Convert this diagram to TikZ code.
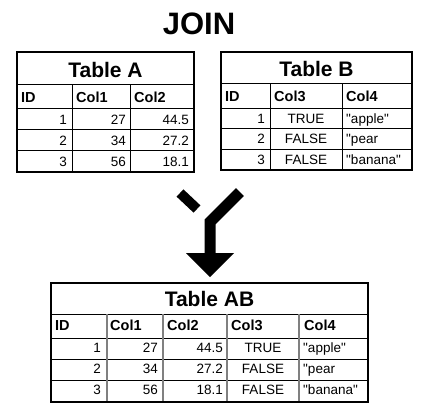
\documentclass[tikz,border=0pt]{standalone}
\usepackage{fontspec}
\setmainfont{Liberation Sans}[Ligatures=TeXOff]
\begin{document}
\begin{tikzpicture}[x=1pt,y=-1pt,
  title/.style={font=\fontsize{31}{31}\selectfont\bfseries, anchor=base, inner sep=0},
  thead/.style={font=\fontsize{21}{21}\selectfont\bfseries, anchor=base, inner sep=0},
  chead/.style={font=\fontsize{14.5}{14.5}\selectfont\bfseries, anchor=base west, inner sep=0},
  cellr/.style={font=\fontsize{13.5}{13.5}\selectfont, anchor=base east, inner sep=0},
  cellc/.style={font=\fontsize{13.5}{13.5}\selectfont, anchor=base, inner sep=0},
  celll/.style={font=\fontsize{13.5}{13.5}\selectfont, anchor=base west, inner sep=0},
  outer/.style={draw=black, line width=2.5pt},
  rowline/.style={draw=black, line width=1pt},
  colline/.style={draw=black, line width=1pt},
  gcolline/.style={draw=gray, line width=1.6pt},
  bar/.style={draw=black, line width=11pt, line join=miter, line cap=butt},
  head/.style={fill=black, draw=none}
]
\useasboundingbox (0,0) rectangle (433,418);
\fill[white] (0,0) rectangle (433,418);

% Title
\node[title] (join) at (199,34) {JOIN};

% ---------- Table A ----------
\foreach \y in {84,108,129,150} \draw[rowline] (17,\y) -- (194,\y);
\foreach \x in {72,130} \draw[colline] (\x,84) -- (\x,172);
\draw[outer] (17,52) rectangle (194,172);
\node[thead] (tA) at (105.5,77) {Table A};
\node[chead] (tAh1) at (21,102) {ID};
\node[chead] (tAh2) at (76,102) {Col1};
\node[chead] (tAh3) at (134,102) {Col2};
\node[cellr] (tA11) at (67,124) {1};
\node[cellr] (tA12) at (126,124) {27};
\node[cellr] (tA13) at (189,124) {44.5};
\node[cellr] (tA21) at (67,145) {2};
\node[cellr] (tA22) at (126,145) {34};
\node[cellr] (tA23) at (189,145) {27.2};
\node[cellr] (tA31) at (67,166) {3};
\node[cellr] (tA32) at (126,166) {56};
\node[cellr] (tA33) at (189,166) {18.1};

% ---------- Table B ----------
\foreach \y in {83,108,128,149} \draw[rowline] (221,\y) -- (412,\y);
\foreach \x in {270,342} \draw[colline] (\x,83) -- (\x,170);
\draw[outer] (221,52) rectangle (412,170);
\node[thead] (tB) at (316.5,76) {Table B};
\node[chead] (tBh1) at (225,101) {ID};
\node[chead] (tBh2) at (274,101) {Col3};
\node[chead] (tBh3) at (346,101) {Col4};
\node[cellr] (tB11) at (265,123) {1};
\node[cellc] (tB12) at (306,123) {TRUE};
\node[celll] (tB13) at (346,123) {"apple"};
\node[cellr] (tB21) at (265,143.5) {2};
\node[cellc] (tB22) at (306,143.5) {FALSE};
\node[celll] (tB23) at (346,143.5) {"pear};
\node[cellr] (tB31) at (265,164) {3};
\node[cellc] (tB32) at (306,164) {FALSE};
\node[celll] (tB33) at (346,164) {"banana"};

% ---------- Arrow ----------
\coordinate (la) at (180,193);
\coordinate (lb) at (197,209);
\coordinate (ra) at (240,192);
\coordinate (rb) at (210,222);
\coordinate (rc) at (210,254);
\coordinate (hl) at (186,253);
\coordinate (hr) at (234,253);
\coordinate (ht) at (210,277);
\draw[bar, line width=10pt] (la) -- (lb);
\draw[bar] (ra) -- (rb) -- (rc);
\fill[head] (hl) -- (hr) -- (ht) -- cycle;

% ---------- Table AB ----------
\foreach \y in {314,338,359,380} \draw[rowline] (51,\y) -- (368,\y);
\foreach \x in {107,163,227,299} \draw[gcolline] (\x,314) -- (\x,402);
\draw[outer] (51,283) rectangle (368,402);
\node[thead] (tAB) at (209.5,306) {Table AB};
\node[chead] (tCh1) at (55,330) {ID};
\node[chead] (tCh2) at (110,330) {Col1};
\node[chead] (tCh3) at (167,330) {Col2};
\node[chead] (tCh4) at (231,330) {Col3};
\node[chead] (tCh5) at (304,330) {Col4};
\node[cellr] (tC11) at (101,352) {1};
\node[cellr] (tC12) at (158,352) {27};
\node[cellr] (tC13) at (223,352) {44.5};
\node[cellc] (tC14) at (263,352) {TRUE};
\node[celll] (tC15) at (303,352) {"apple"};
\node[cellr] (tC21) at (101,373.5) {2};
\node[cellr] (tC22) at (158,373.5) {34};
\node[cellr] (tC23) at (223,373.5) {27.2};
\node[cellc] (tC24) at (263,373.5) {FALSE};
\node[celll] (tC25) at (303,373.5) {"pear};
\node[cellr] (tC31) at (101,394.5) {3};
\node[cellr] (tC32) at (158,394.5) {56};
\node[cellr] (tC33) at (223,394.5) {18.1};
\node[cellc] (tC34) at (263,394.5) {FALSE};
\node[celll] (tC35) at (303,394.5) {"banana"};
\end{tikzpicture}
\end{document}
